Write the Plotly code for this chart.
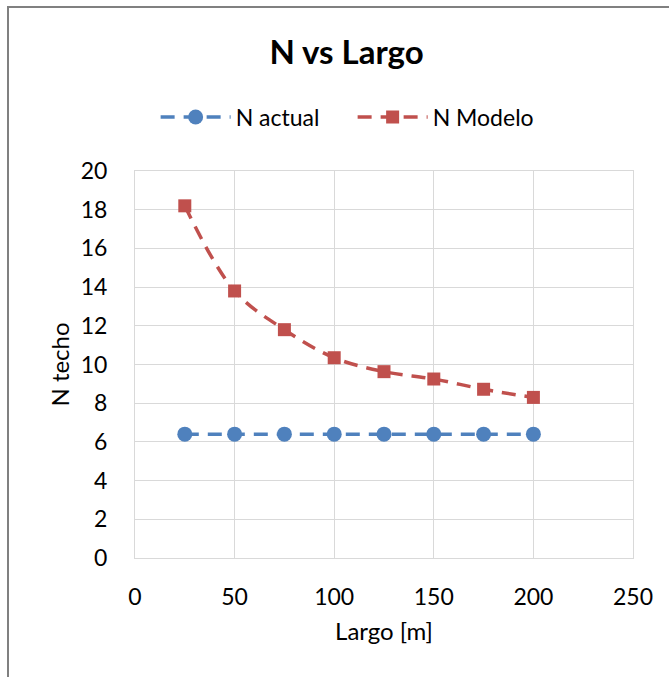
import plotly.graph_objects as go

largo = [25, 50, 75, 100, 125, 150, 175, 200]
n_actual = [6.4, 6.4, 6.4, 6.4, 6.4, 6.4, 6.4, 6.4]
n_modelo = [18.2, 13.8, 11.8, 10.35, 9.63, 9.25, 8.72, 8.3]

FONT = "Lato"
fig = go.Figure()
fig.add_trace(go.Scatter(
    x=largo, y=n_actual, name="N actual", mode="lines+markers",
    line=dict(color="#4F81BD", width=3.5, dash="14px,9px"),
    marker=dict(symbol="circle", size=15, color="#4F81BD"),
))
fig.add_trace(go.Scatter(
    x=largo, y=n_modelo, name="N Modelo", mode="lines+markers",
    line=dict(color="#C0504D", width=3.5, dash="14px,9px", shape="spline"),
    marker=dict(symbol="square", size=13, color="#C0504D"),
))

fig.update_layout(
    width=669, height=677,
    margin=dict(l=135, r=36, t=171, b=119),
    paper_bgcolor="white", plot_bgcolor="white",
    font=dict(family=FONT, size=23, color="#000000"),
    title=dict(text="<b>N vs Largo</b>", x=0.518, xanchor="center",
               y=1 - 52 / 677, yanchor="middle",
               font=dict(family=FONT, size=33, color="#000000")),
    legend=dict(orientation="h", x=0.437, xanchor="center",
                y=1 - 117 / 677, yref="container", yanchor="middle",
                font=dict(family=FONT, size=23), itemwidth=70,
                entrywidth=112, entrywidthmode="pixels"),
    showlegend=True,
    shapes=[dict(type="rect", xref="paper", yref="paper",
                 x0=-127 / 498, x1=1.2, y0=-0.4, y1=1 + 164 / 387,
                 line=dict(color="#808080", width=2), layer="below")],
)
fig.update_xaxes(range=[0, 250], dtick=50, showgrid=True, gridcolor="#D9D9D9",
                 gridwidth=1, showline=True, linecolor="#D9D9D9", mirror=True,
                 zeroline=False, ticks="", ticklabelstandoff=18,
                 tickfont=dict(family=FONT, size=23),
                 title=dict(text="Largo [m]", font=dict(family=FONT, size=24), standoff=14))
fig.update_yaxes(range=[0, 20], dtick=2, showgrid=True, gridcolor="#D9D9D9",
                 gridwidth=1, showline=True, linecolor="#D9D9D9", mirror=True,
                 zeroline=False, ticks="", ticklabelstandoff=22,
                 tickfont=dict(family=FONT, size=23),
                 title=dict(text="N techo", font=dict(family=FONT, size=24), standoff=4))

fig.write_html("out.html")
